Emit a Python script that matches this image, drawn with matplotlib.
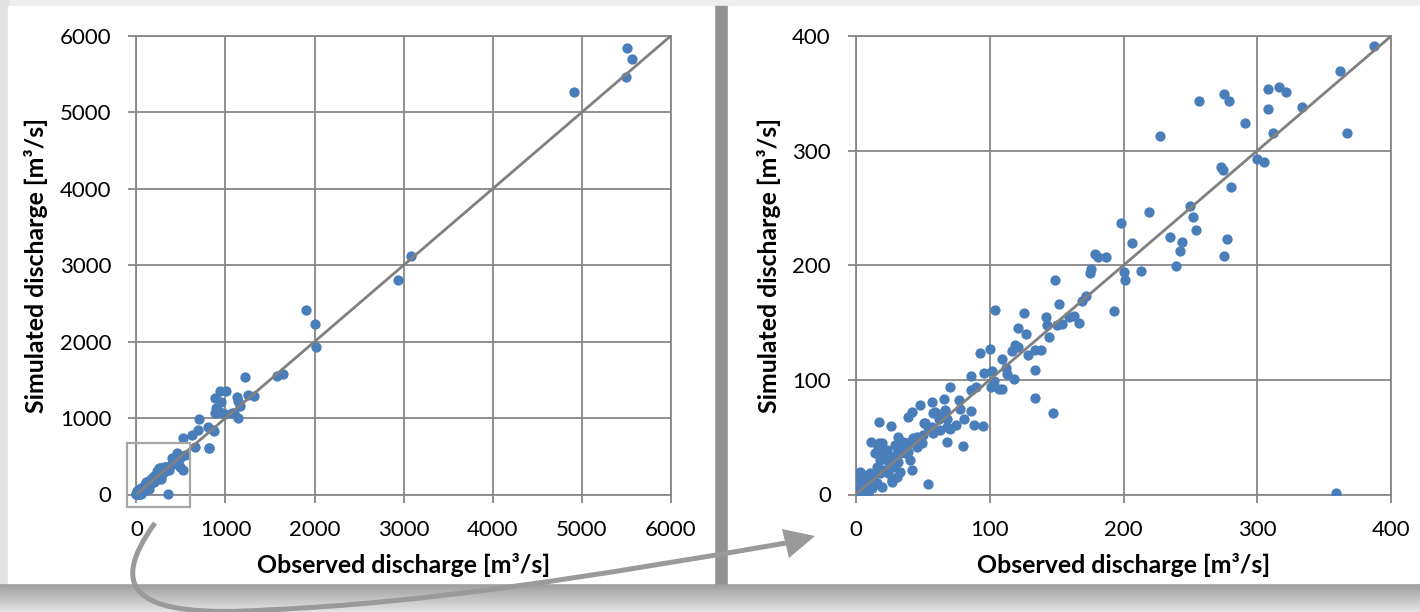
import numpy as np
import matplotlib
matplotlib.use("Agg")
import matplotlib.pyplot as plt
from matplotlib.patches import Rectangle, PathPatch, Polygon
from matplotlib.path import Path

plt.rcParams['font.family'] = ['Lato', 'DejaVu Sans']

# ---------------- data ----------------
# points with observed and simulated discharge up to ~400 m3/s (shown in both panels)
obs_small = [387, 362, 367, 359, 308, 316, 321, 308, 333, 312, 291, 275, 279, 256, 227,
             300, 305, 273, 274, 280, 250, 252, 254, 235, 244, 242, 239, 277, 275, 219,
             198, 206, 213, 200, 201, 193, 179, 181, 187, 176, 175, 149, 152, 172, 169,
             163, 159, 167, 154, 150, 142, 143, 144, 126, 121, 127, 104, 119, 121, 117,
             129, 134, 138, 100, 93, 109, 112, 134, 113, 118, 96, 102, 86, 103, 101,
             107, 109, 90, 86, 70, 134, 147, 66, 57, 77, 48, 42, 39, 86, 78,
             67, 59, 63, 68, 70, 75, 81, 88, 95, 80, 68, 54, 17, 26, 11,
             17, 42, 27, 51, 57, 68, 58, 62, 67,
             1.9, 3.1, 6.9, 9.4, 13.1, 15.6, 18.1, 14.4, 21.8, 23.1, 25.6, 28.1, 30.6, 31.8,
             33.1, 34.3, 35.5, 38.0, 39.3, 40.5, 43.0, 45.5, 50.5, 54.2, 18.1, 10.6, 5.6, 9.4,
             0.6, 0.3, 4.4, 13.1, 11.9, 20.6, 24.3, 26.8, 16.8, 19.3, 23.1, 29.3, 36.8, 33.1,
             28.1, 20.6, 15.6, 8.1, 3.1, 1.2, 31.8, 39.3, 45.5, 49.3, 51.8, 58.0, 63.0, 30.6,
             19.3, 0.2, 3.1]
sim_small = [391, 369, 315, 1, 354, 355, 351, 336, 338, 315, 324, 349, 343, 343, 313,
             293, 290, 286, 283, 268, 252, 242, 231, 225, 220, 212, 199, 223, 208, 246,
             237, 219, 195, 194, 187, 160, 210, 207, 207, 197, 193, 187, 166, 173, 169,
             156, 155, 150, 149, 148, 155, 148, 137, 158, 145, 140, 161, 130, 129, 125,
             122, 126, 126, 127, 123, 118, 110, 109, 105, 101, 106, 108, 103, 99, 94,
             92, 92, 94, 91, 94, 84, 71, 83, 81, 82, 78, 72, 68, 73, 75,
             73, 72, 68, 66, 57, 61, 66, 61, 60, 42, 46, 9, 63, 60, 46,
             45, 21, 11, 62, 59, 59, 71, 66, 74,
             12.6, 8.3, 13.9, 9.9, 17.0, 24.3, 30.0, 35.9, 38.8, 30.0, 25.6, 32.9, 35.9, 28.6,
             19.9, 41.7, 46.1, 44.6, 37.4, 30.0, 48.9, 50.4, 51.8, 59.1, 18.4, 18.4, 3.9, 1.0,
             1.0, 3.9, 11.2, 12.6, 5.4, 21.3, 18.4, 12.6, 41.7, 44.6, 38.8, 43.2, 35.9, 35.9,
             24.3, 35.9, 9.9, 17.0, 19.9, 11.2, 50.4, 44.6, 41.7, 44.6, 62.0, 53.3, 56.2, 15.6,
             6.9, 0.5, 0.2]

# points beyond ~400 m3/s (only in the full-range panel)
obs_large = [5511, 5567, 5495, 4913, 3083, 2933, 1902, 2005, 2016, 1583, 1644, 1217, 1257,
             1320, 1134, 1139, 1160, 1144, 938, 1005, 887, 954, 892, 882, 943, 995, 1072,
             1099, 706, 871, 814, 695, 808, 864, 621, 527, 658, 815, 452, 546, 490, 527,
             490, 433, 470, 396, 415]
sim_large = [5836, 5693, 5458, 5269, 3120, 2803, 2415, 2226, 1925, 1552, 1583, 1537, 1302,
             1287, 1277, 1225, 1159, 1006, 1355, 1355, 1261, 1210, 1134, 1067, 1083, 1057, 1072,
             1062, 990, 832, 606, 844, 887, 844, 778, 735, 625, 604, 539, 517, 474, 321,
             364, 408, 430, 474, 455]

full_ticks = [0, 1000, 2000, 3000, 4000, 5000, 6000]
zoom_ticks = [0, 100, 200, 300, 400]
zoom_box = [-100, 600, -170, 670]  # x0, x1, y0, y1 (full-range data units)

xlabel = "Observed discharge [m³/s]"
ylabel = "Simulated discharge [m³/s]"

# ---------------- figure / background cards ----------------
W, H = 1420, 612
fig = plt.figure(figsize=(W / 100, H / 100), dpi=100, facecolor='#eeeeee')

bg = fig.add_axes([0, 0, 1, 1], zorder=-10)
bg.set_xlim(0, W); bg.set_ylim(H, 0); bg.axis('off')
grad = np.linspace(0, 1, 50)[:, None]
cmap = matplotlib.colors.LinearSegmentedColormap.from_list('sh', ['#9b9b9b', '#e4e4e4'])
bg.imshow(grad, extent=(0, W, H, 583), cmap=cmap, aspect='auto', zorder=0)
bg.add_patch(Rectangle((0, 0), 8, 583, color='#e2e2e2', zorder=1))
bg.add_patch(Rectangle((714, 6), 14, 577, color='#939393', zorder=1))
bg.add_patch(Rectangle((8, 6), 706, 577, color='white', zorder=2))
bg.add_patch(Rectangle((728, 6), 692, 577, color='white', zorder=2))

grid_c = '#878787'
dot_c = '#4a7ebb'


def style(ax, ticks):
    lo, hi = ticks[0], ticks[-1]
    ax.set_xlim(lo, hi); ax.set_ylim(lo, hi)
    ax.set_xticks(ticks); ax.set_yticks(ticks)
    ax.set_facecolor('none')
    ax.grid(True, color=grid_c, lw=1.3)
    ax.set_axisbelow(True)
    for s in ax.spines.values():
        s.set_color(grid_c); s.set_linewidth(1.3)
    ax.tick_params(direction='out', length=5.5, width=1.3, color=grid_c,
                   labelsize=16, pad=12.5, labelcolor='black')
    ax.axline((lo, lo), slope=1, color='#808080', lw=2.0, zorder=4)
    ax.set_xlabel(xlabel, fontsize=17.9, fontweight='bold')
    ax.set_ylabel(ylabel, fontsize=17.9, fontweight='bold')
    ax.xaxis.label.set_va('center')
    ax.yaxis.label.set_va('center')


obs_all = obs_small + obs_large
sim_all = sim_small + sim_large

ax1 = fig.add_axes([136.4 / W, 1 - 494.5 / H, 534.4 / W, 458.6 / H])
style(ax1, full_ticks)
ax1.scatter(obs_all, sim_all, s=55, color=dot_c, linewidths=0, zorder=3, clip_on=False)
ax1.xaxis.set_label_coords(0.5, -0.1537)
ax1.yaxis.set_label_coords(-0.1883, 0.5)
x0, x1, y0, y1 = zoom_box
ax1.add_patch(Rectangle((x0, y0), x1 - x0, y1 - y0, fill=False, ec='#a6a6a6', lw=1.6,
                        clip_on=False, zorder=5))

ax2 = fig.add_axes([855.8 / W, 1 - 494.5 / H, 535.5 / W, 458.6 / H])
style(ax2, zoom_ticks)
ax2.scatter(obs_small, sim_small, s=55, color=dot_c, linewidths=0, zorder=3)
ax2.xaxis.set_label_coords(0.5, -0.1537)
ax2.yaxis.set_label_coords(-0.1626, 0.5)

# ---------------- connecting arrow ----------------
ov = fig.add_axes([0, 0, 1, 1], zorder=20)
ov.set_xlim(0, W); ov.set_ylim(H, 0); ov.axis('off'); ov.patch.set_alpha(0)
verts = [(155, 523), (105, 592), (138, 618), (265, 610),
         (430, 603), (600, 575), (786, 543)]
codes = [Path.MOVETO, Path.CURVE4, Path.CURVE4, Path.CURVE4,
         Path.CURVE4, Path.CURVE4, Path.CURVE4]
ov.add_patch(PathPatch(Path(verts, codes), fill=False, ec='#9a9a9a', lw=3.6,
                       capstyle='butt'))
ov.add_patch(Polygon([(815, 536), (789, 558), (782, 529)], closed=True,
                     fc='#9a9a9a', ec='none'))

fig.savefig('out.png', dpi=100, facecolor=fig.get_facecolor())
